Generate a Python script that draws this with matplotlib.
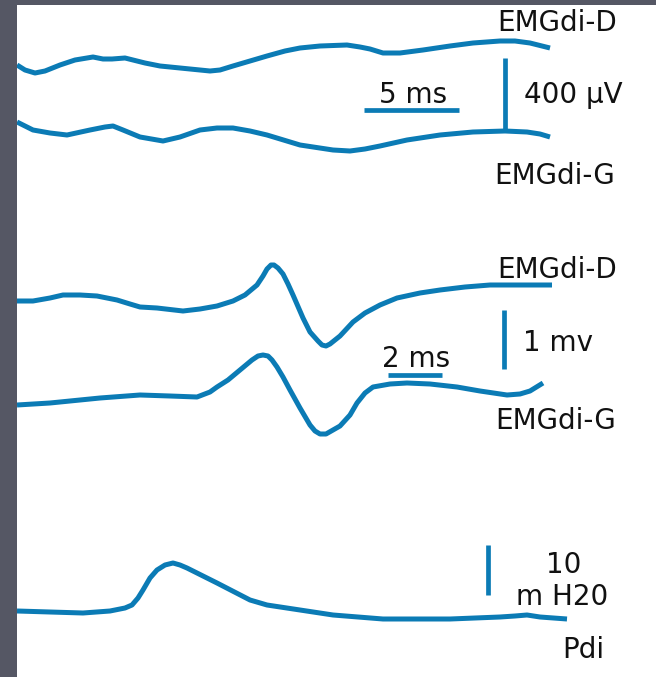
import matplotlib
matplotlib.use("Agg")
import matplotlib.pyplot as plt

plt.rcParams['font.family'] = ['DejaVu Sans']

# ---- data (x = time position, y = trace level) ----
top_d_t = [17, 25, 35, 45, 60, 75, 93, 103, 112, 125, 133, 145, 160, 180, 190, 200, 210, 220, 233,
           250, 267, 285, 300, 320, 347, 360, 370, 383, 400, 423, 450, 473, 500, 515, 530, 550]
top_d_v = [65, 70, 73, 71, 65, 60, 57, 59, 59, 58, 60, 63, 66, 68, 69, 70, 71, 70, 66,
           61, 56, 51, 48, 46, 45, 47, 49, 53, 53, 50, 46, 43, 41, 41, 43, 48]

top_g_t = [17, 33, 50, 67, 90, 105, 113, 123, 140, 163, 180, 200, 217, 233, 250, 267, 300, 333,
           350, 365, 380, 407, 440, 473, 505, 527, 540, 550]
top_g_v = [122, 130, 133, 135, 130, 127, 126, 130, 137, 141, 137, 130, 128, 128, 131, 135, 145, 150,
           151, 149, 146, 140, 135, 132, 131, 132, 134, 137]

mid_d_t = [17, 33, 50, 63, 80, 97, 117, 130, 140, 157, 183, 200, 217, 233, 245, 257, 263, 267, 271, 274,
           278, 283, 288, 293, 303, 310, 318, 322, 326, 330, 340, 353, 365, 380, 397, 420, 440, 465, 490, 520, 552]
mid_d_v = [301, 301, 298, 295, 295, 296, 300, 304, 307, 308, 311, 309, 306, 301, 295, 285, 276, 269, 265, 265,
           268, 274, 284, 295, 318, 332, 341, 345, 346, 344, 336, 322, 313, 305, 298, 293, 290, 287, 285, 285, 285]

mid_g_t = [17, 50, 100, 140, 170, 197, 210, 217, 228, 240, 252, 258, 263, 268, 272, 277, 283, 290, 300, 310,
           315, 320, 326, 340, 350, 357, 365, 373, 390, 407, 430, 457, 480, 507, 520, 530, 543]
mid_g_v = [405, 403, 398, 395, 396, 397, 392, 387, 380, 370, 360, 356, 355, 356, 360, 367, 377, 390, 408, 425,
           431, 434, 434, 426, 415, 403, 393, 387, 384, 383, 384, 387, 391, 395, 394, 391, 383]

pdi_t = [17, 50, 83, 110, 125, 132, 138, 143, 150, 157, 165, 173, 180, 187, 217, 250, 267, 300,
         333, 383, 450, 500, 515, 527, 540, 567]
pdi_v = [611, 612, 613, 611, 608, 605, 598, 590, 578, 570, 565, 563, 565, 568, 583, 600, 605, 610,
         615, 619, 619, 617, 616, 615, 617, 619]

# scale bars: (x0, x1, y0, y1)
scale_bars = [
    (505, 505, 58, 130),   # 400 uV
    (364, 459, 110, 110),  # 5 ms
    (504, 504, 310, 369),  # 1 mv
    (388, 442, 375, 375),  # 2 ms
    (488, 488, 545, 595),  # 10 cm H2O
]

labels = ["EMGdi-D", "5 ms", "400 µV", "EMGdi-G", "EMGdi-D", "1 mv", "2 ms", "EMGdi-G", "10", "m H20", "Pdi"]
label_x = [557, 413, 573, 555, 557, 558, 416, 556, 564, 562, 583]
label_y = [31, 103, 103, 184, 278, 351, 367, 429, 573, 605, 658]

# ---- drawing ----
W, H = 656, 677
fig = plt.figure(figsize=(W / 100, H / 100), dpi=100)
fig.patch.set_facecolor('#555764')
ax = fig.add_axes([17 / W, 0, (W - 17) / W, (H - 5) / H])
ax.set_facecolor('white')
ax.set_xlim(17, W)
ax.set_ylim(H, 5)
ax.set_xticks([])
ax.set_yticks([])
for s in ax.spines.values():
    s.set_visible(False)

blue = '#0b7bb5'
for t, v in [(top_d_t, top_d_v), (top_g_t, top_g_v), (mid_d_t, mid_d_v),
             (mid_g_t, mid_g_v), (pdi_t, pdi_v)]:
    ax.plot(t, v, color=blue, lw=3.6, solid_joinstyle='round', solid_capstyle='butt')

for x0, x1, y0, y1 in scale_bars:
    ax.plot([x0, x1], [y0, y1], color=blue, lw=3.4, solid_capstyle='butt')

for s, x, y in zip(labels, label_x, label_y):
    ax.text(x, y, s, ha='center', va='baseline', fontsize=20, color='#111111')

fig.savefig('out.png', dpi=100, facecolor=fig.get_facecolor())
